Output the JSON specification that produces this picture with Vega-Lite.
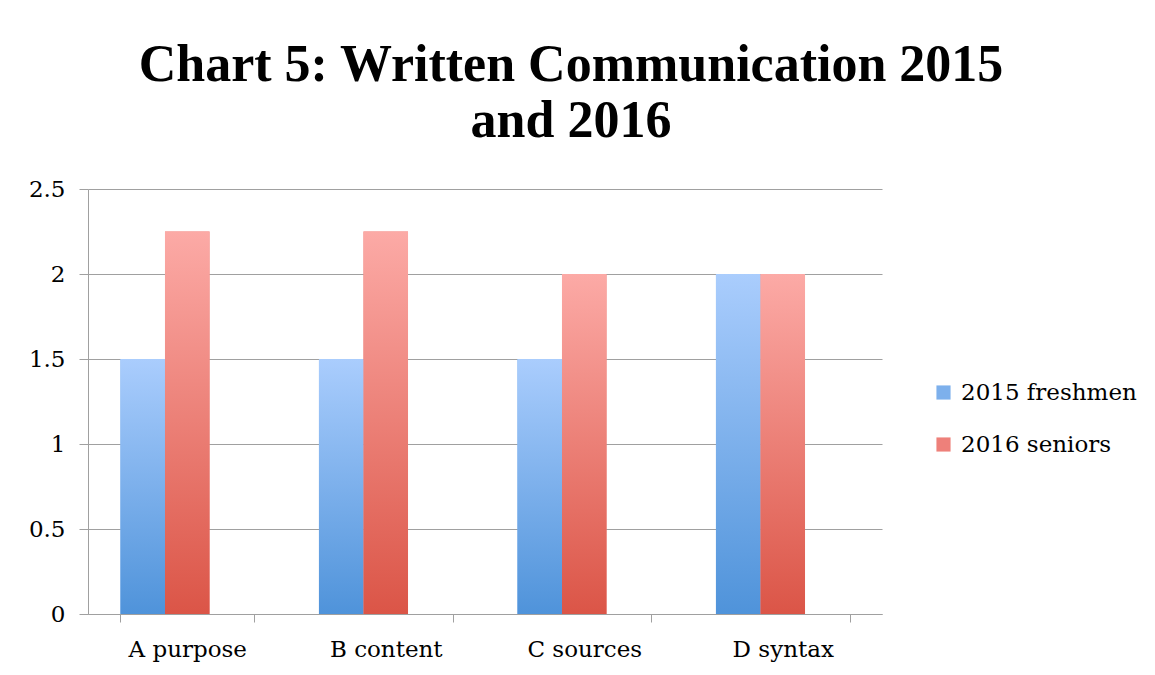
{
  "$schema": "https://vega.github.io/schema/vega-lite/v6.json",
  "width": 794,
  "height": 425,
  "autosize": {"type": "none"},
  "padding": {"left": 88, "top": 189, "right": 273, "bottom": 61},
  "background": "white",
  "title": {
    "text": ["Chart 5: Written Communication 2015", "and 2016"],
    "font": "Liberation Serif",
    "fontSize": 52,
    "fontWeight": "bold",
    "color": "black",
    "lineHeight": 56,
    "anchor": "middle",
    "dx": 86,
    "offset": 30
  },
  "data": {
    "values": [
      {"criterion": "A purpose", "group": "2015 freshmen", "score": 1.5},
      {"criterion": "A purpose", "group": "2016 seniors", "score": 2.25},
      {"criterion": "B content", "group": "2015 freshmen", "score": 1.5},
      {"criterion": "B content", "group": "2016 seniors", "score": 2.25},
      {"criterion": "C sources", "group": "2015 freshmen", "score": 1.5},
      {"criterion": "C sources", "group": "2016 seniors", "score": 2.0},
      {"criterion": "D syntax", "group": "2015 freshmen", "score": 2.0},
      {"criterion": "D syntax", "group": "2016 seniors", "score": 2.0}
    ]
  },
  "encoding": {
    "x": {
      "field": "criterion",
      "type": "nominal",
      "sort": null,
      "scale": {"paddingInner": 0.327, "paddingOuter": 0.1635},
      "axis": {
        "title": null,
        "labelAngle": 0,
        "tickBand": "extent",
        "tickSize": 8,
        "tickColor": "#a0a0a0",
        "domainColor": "#a0a0a0",
        "labelFont": "DejaVu Serif",
        "labelFontSize": 23,
        "labelColor": "black",
        "labelPadding": 16,
        "grid": false
      }
    },
    "xOffset": {
      "field": "group",
      "type": "nominal",
      "scale": {"domain": ["2015 freshmen", "2016 seniors", "(empty)"], "paddingInner": 0, "paddingOuter": 0}
    },
    "y": {
      "field": "score",
      "type": "quantitative",
      "scale": {"domain": [0, 2.5]},
      "axis": {
        "title": null,
        "values": [0, 0.5, 1, 1.5, 2, 2.5],
        "format": "~g",
        "grid": true,
        "gridColor": "#a0a0a0",
        "gridWidth": 1.2,
        "domainColor": "#a0a0a0",
        "tickColor": "#a0a0a0",
        "tickSize": 9,
        "labelFont": "DejaVu Serif",
        "labelFontSize": 23,
        "labelColor": "black",
        "labelPadding": 14
      }
    }
  },
  "layer": [
    {
      "mark": {"type": "bar"},
      "encoding": {
        "color": {
          "field": "group",
          "type": "nominal",
          "scale": {"domain": ["2015 freshmen", "2016 seniors"], "range": ["#7db0ec", "#ee807a"]},
          "legend": {
            "title": null,
            "orient": "none",
            "legendX": 844,
            "legendY": 192,
            "symbolType": "square",
            "symbolSize": 200,
            "symbolStrokeWidth": 0,
            "labelFont": "DejaVu Serif",
            "labelFontSize": 23,
            "labelColor": "black",
            "labelOffset": 6,
            "labelLimit": 400,
            "rowPadding": 28
          }
        }
      }
    },
    {
      "mark": {"type": "bar"},
      "encoding": {
        "color": {
          "condition": {
            "test": "datum.group === '2015 freshmen'",
            "value": {"gradient": "linear", "x1": 0, "y1": 0, "x2": 0, "y2": 1, "stops": [{"offset": 0, "color": "#aacdfd"}, {"offset": 1, "color": "#4f93da"}]}
          },
          "value": {"gradient": "linear", "x1": 0, "y1": 0, "x2": 0, "y2": 1, "stops": [{"offset": 0, "color": "#fcaaa6"}, {"offset": 1, "color": "#db5547"}]}
        }
      }
    }
  ],
  "config": {
    "view": {"stroke": null}
  }
}
